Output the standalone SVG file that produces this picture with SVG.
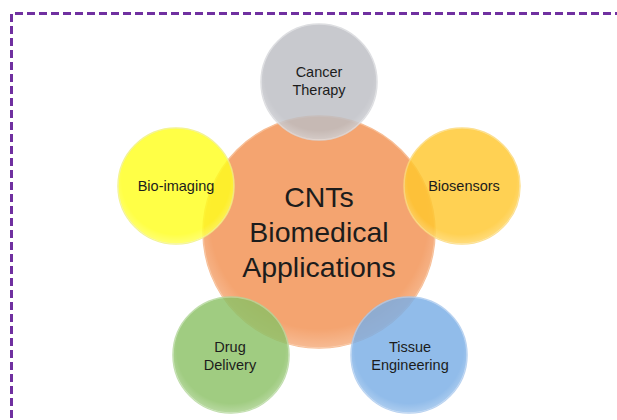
<svg xmlns="http://www.w3.org/2000/svg" width="617" height="420" viewBox="0 0 617 420">
  <defs>
    <style>
      .hub { fill: #F4A470; stroke: #F7BE96; stroke-width: 1.5; }
      .sat { stroke-width: 1.5; opacity: 0.82; }
      .label { font-family: "Liberation Sans", Arial, sans-serif; font-size: 14.5px; fill: #1c1c1c; text-anchor: middle; }
      .title { font-family: "Liberation Sans", Arial, sans-serif; font-size: 28.5px; fill: #1c1c1c; text-anchor: middle; }
      .frame { fill: none; stroke: #7030A0; stroke-width: 3; stroke-dasharray: 8 4; }
    </style>
    <radialGradient id="shade" cx="50%" cy="45%" r="55%">
      <stop offset="0.85" stop-color="#ffffff" stop-opacity="0"/>
      <stop offset="1" stop-color="#ffffff" stop-opacity="0.25"/>
    </radialGradient>
  </defs>

  <rect width="617" height="420" fill="#ffffff"/>

  <!-- dashed frame, open to the right and bottom -->
  <path class="frame" d="M11.5 430 V13.5 H630"/>

  <!-- central hub -->
  <g id="hub">
    <circle class="hub" cx="319" cy="232" r="116"/>
    <circle cx="319" cy="232" r="116" fill="url(#shade)"/>
  </g>

  <!-- satellites, pentagon around the hub (distance 150) -->
  <g id="cancer-therapy">
    <circle class="sat" cx="319" cy="82" r="58" fill="#BDBEC4" stroke="#D6D7DB"/>
    <circle cx="319" cy="82" r="58" fill="url(#shade)"/>
    <text class="label" x="319" y="77">Cancer</text>
    <text class="label" x="319" y="95">Therapy</text>
  </g>

  <g id="bio-imaging">
    <circle class="sat" cx="176" cy="186" r="58" fill="#FFFF1E" stroke="#F2F27A"/>
    <circle cx="176" cy="186" r="58" fill="url(#shade)"/>
    <text class="label" x="176" y="191">Bio-imaging</text>
  </g>

  <g id="biosensors">
    <circle class="sat" cx="462" cy="186" r="58" fill="#FFC82E" stroke="#FCD977"/>
    <circle cx="462" cy="186" r="58" fill="url(#shade)"/>
    <text class="label" x="464" y="191">Biosensors</text>
  </g>

  <g id="drug-delivery">
    <circle class="sat" cx="231" cy="355" r="58" fill="#8CC166" stroke="#B3D79A"/>
    <circle cx="231" cy="355" r="58" fill="url(#shade)"/>
    <text class="label" x="230" y="352">Drug</text>
    <text class="label" x="230" y="370">Delivery</text>
  </g>

  <g id="tissue-engineering">
    <circle class="sat" cx="409" cy="355" r="58" fill="#7AAEE6" stroke="#A9C9EE"/>
    <circle cx="409" cy="355" r="58" fill="url(#shade)"/>
    <text class="label" x="410" y="352">Tissue</text>
    <text class="label" x="410" y="370">Engineering</text>
  </g>

  <!-- hub caption drawn last so it stays on top -->
  <g id="hub-label">
    <text class="title" x="319" y="207">CNTs</text>
    <text class="title" x="319" y="242">Biomedical</text>
    <text class="title" x="319" y="277">Applications</text>
  </g>

  <!-- no connectors: satellites overlap the hub directly -->
  <g id="connectors"/>
</svg>
